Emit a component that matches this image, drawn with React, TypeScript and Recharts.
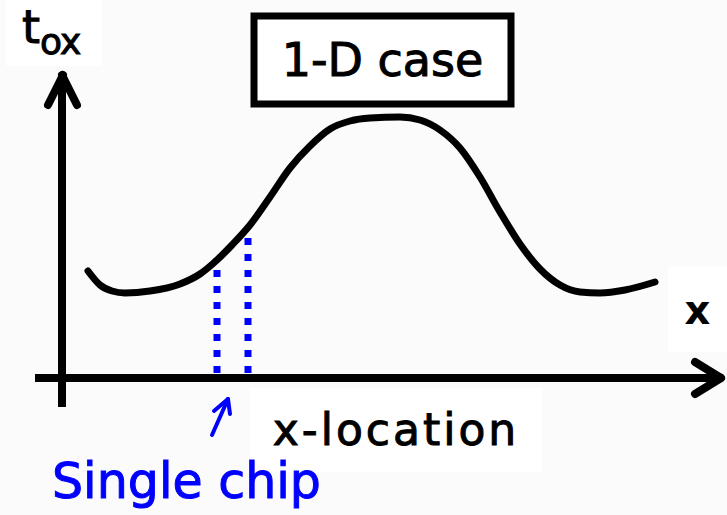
import {
  ComposedChart,
  Line,
  ReferenceArea,
  ReferenceLine,
  XAxis,
  YAxis,
} from "recharts";

// x-location vs t_ox (y grows upward)
const locations = [88, 100, 112, 125, 150, 180, 200, 217, 232, 250, 270, 290, 310, 330, 350, 370, 400, 420, 440, 460, 480, 500, 520, 540, 560, 580, 600, 625, 655];
const tox = [244, 230, 224, 222, 224, 231, 241, 255, 270, 290, 318, 347, 369, 386, 394, 397, 398, 395, 385, 367, 338, 303, 271, 246, 230, 223, 222, 225, 233];

// single chip edges and their dotted-line heights
const chipEdges = [217, 248];
const chipTops = [257, 278];
const chipBase = 142;

const W = 727;
const H = 515;

const curve = locations.map((x, i) => ({ x, t: tox[i] }));

const black = "#000000";
const blue = "#0000ff";
const font = "'DejaVu Sans', Verdana, sans-serif";

const seg = (x1: number, y1: number, x2: number, y2: number) => [
  { x: x1, y: y1 },
  { x: x2, y: y2 },
];

export default function App() {
  return (
    <div
      style={{
        position: "absolute",
        left: 0,
        top: 0,
        width: W,
        height: H,
        background: "#fbfbfb",
        fontFamily: font,
      }}
    >
      <ComposedChart width={W} height={H} data={curve} margin={{ top: 0, right: 0, bottom: 0, left: 0 }}>
        <XAxis type="number" dataKey="x" domain={[0, W]} hide />
        <YAxis type="number" domain={[0, H]} hide />

        {/* title box */}
        <ReferenceArea x1={254} x2={511} y1={411} y2={499} fill="#ffffff" fillOpacity={1} stroke={black} strokeWidth={7} />

        {/* axes */}
        <ReferenceLine segment={seg(62, 108, 62, 438)} stroke={black} strokeWidth={8} />
        <ReferenceLine segment={seg(35, 137, 718, 137)} stroke={black} strokeWidth={8} />
        <ReferenceLine segment={seg(48, 410, 63, 440)} stroke={black} strokeWidth={8} strokeLinecap="round" />
        <ReferenceLine segment={seg(77, 410, 62, 440)} stroke={black} strokeWidth={8} strokeLinecap="round" />
        <ReferenceLine segment={seg(695, 153, 721, 137)} stroke={black} strokeWidth={8} strokeLinecap="round" />
        <ReferenceLine segment={seg(695, 121, 721, 137)} stroke={black} strokeWidth={8} strokeLinecap="round" />

        {/* single chip */}
        {chipEdges.map((x, i) => (
          <ReferenceLine
            key={x}
            segment={seg(x, chipBase, x, chipTops[i])}
            stroke={blue}
            strokeWidth={7}
            strokeDasharray="7 9"
          />
        ))}
        <ReferenceLine segment={seg(212, 80, 228, 116)} stroke={blue} strokeWidth={4} strokeLinecap="round" />
        <ReferenceLine segment={seg(214, 104, 228, 116)} stroke={blue} strokeWidth={4} strokeLinecap="round" />
        <ReferenceLine segment={seg(230, 101, 228, 116)} stroke={blue} strokeWidth={4} strokeLinecap="round" />

        <Line
          type="monotone"
          dataKey="t"
          stroke={black}
          strokeWidth={7}
          strokeLinecap="round"
          dot={false}
          activeDot={false}
          isAnimationActive={false}
        />
      </ComposedChart>

      <div style={{ position: "absolute", left: 254, top: 16, width: 257, height: 88, display: "flex", alignItems: "center", justifyContent: "center", fontSize: 46, color: black, WebkitTextStroke: "1px #000" }}>
        1-D case
      </div>
      <div style={{ position: "absolute", left: 6, top: 0, width: 96, height: 66, background: "#ffffff" }} />
      <div style={{ position: "absolute", left: 22, top: 2, fontSize: 46, lineHeight: "50px", color: black, WebkitTextStroke: "1px #000" }}>
        t<span style={{ fontSize: 36, position: "relative", top: 11, letterSpacing: -1 }}>ox</span>
      </div>
      <div style={{ position: "absolute", left: 668, top: 267, width: 59, height: 85, background: "#ffffff", display: "flex", alignItems: "center", justifyContent: "center", fontSize: 40, fontWeight: "bold", color: black }}>
        x
      </div>
      <div style={{ position: "absolute", left: 250, top: 388, width: 292, height: 84, background: "#ffffff" }} />
      <div style={{ position: "absolute", left: 250, top: 394, width: 292, height: 70, display: "flex", justifyContent: "center", alignItems: "center", fontSize: 44, letterSpacing: 3, color: black, WebkitTextStroke: "1px #000" }}>
        x-location
      </div>
      <div style={{ position: "absolute", left: 52, top: 452, fontSize: 49, lineHeight: "60px", color: blue, WebkitTextStroke: "1px " + blue }}>
        Single chip
      </div>
    </div>
  );
}
